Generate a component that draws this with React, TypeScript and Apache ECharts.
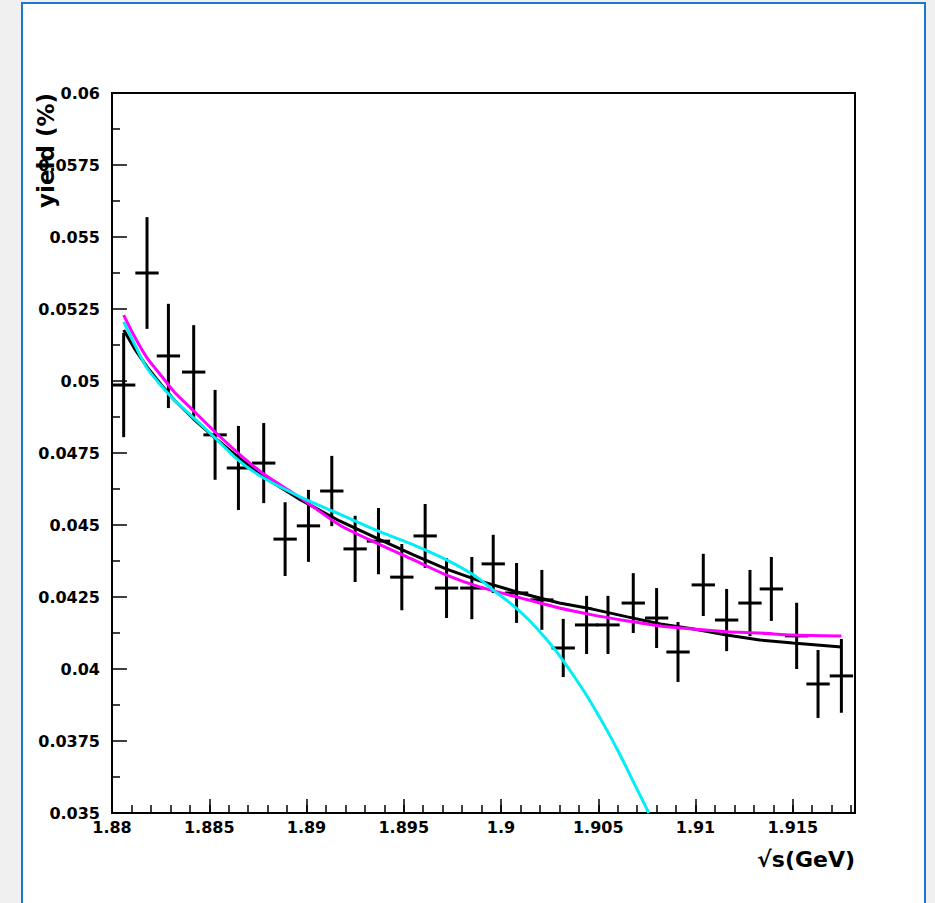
import React, { useEffect, useRef } from "react";
import * as echarts from "echarts";

// ---- axis ranges / ticks ----
const X_MIN = 1.88;
const X_MAX = 1.9182;
const X_MAJOR = 0.005;
const X_MINOR = 0.001;
const Y_MIN = 0.035;
const Y_MAX = 0.06;
const Y_MAJOR = 0.0025;

// ---- measured points ----
const energies = [
  1.8806, 1.8818, 1.8829, 1.8842, 1.8853, 1.8865, 1.8878, 1.8889, 1.8901, 1.8913, 1.8925,
  1.8937, 1.8949, 1.8961, 1.8972, 1.8985, 1.8996, 1.9008, 1.9021, 1.9032, 1.9044, 1.9055,
  1.9068, 1.908, 1.9091, 1.9104, 1.9116, 1.9128, 1.9139, 1.9152, 1.9163, 1.9175,
];
const yields = [
  0.04986, 0.05375, 0.05087, 0.05031, 0.04813, 0.04698, 0.04715, 0.04451, 0.04497, 0.04618,
  0.04417, 0.04444, 0.04319, 0.04462, 0.04281, 0.04281, 0.04365, 0.04264, 0.0424, 0.04073,
  0.04153, 0.04153, 0.04229, 0.04177, 0.04059, 0.04292, 0.0417, 0.04229, 0.04278, 0.04115,
  0.03948, 0.03976,
];
const yieldErrors = [
  0.00181, 0.00194, 0.00181, 0.00163, 0.00156, 0.00146, 0.00139, 0.00128, 0.00125, 0.00122,
  0.00115, 0.00115, 0.00115, 0.00111, 0.00104, 0.00108, 0.00101, 0.00104, 0.00104, 0.00101,
  0.00101, 0.00101, 0.00104, 0.00104, 0.00104, 0.00108, 0.00108, 0.00115, 0.00111, 0.00115,
  0.00118, 0.00128,
];
const energyHalfBin = 0.0006;

// ---- fit curves ----
const fitX = [
  1.8806, 1.8812, 1.8818, 1.8825, 1.8832, 1.8842, 1.8853, 1.8866, 1.8878, 1.8897, 1.8917,
  1.8938, 1.8955, 1.8972, 1.8989, 1.901, 1.903, 1.9047, 1.9065, 1.9082, 1.9099, 1.9116,
  1.9133, 1.915, 1.9175,
];
const blackFit = [
  0.05177, 0.05108, 0.05049, 0.0499, 0.04934, 0.04868, 0.04802, 0.04729, 0.04667, 0.04587,
  0.04514, 0.04448, 0.04396, 0.04347, 0.04306, 0.04264, 0.04229, 0.04208, 0.04181, 0.04156,
  0.04139, 0.04118, 0.04101, 0.0409, 0.04076,
];
const magentaFit = [
  0.05229, 0.05149, 0.0508, 0.05021, 0.04962, 0.04896, 0.04823, 0.04743, 0.04677, 0.04594,
  0.045, 0.04431, 0.04379, 0.04326, 0.04285, 0.04247, 0.04212, 0.04188, 0.04167, 0.04149,
  0.04139, 0.04129, 0.04125, 0.04118, 0.04115,
];
const cyanX = [
  1.8806, 1.8812, 1.8818, 1.8825, 1.8832, 1.8842, 1.8853, 1.8866, 1.8878, 1.8897, 1.8917,
  1.8938, 1.8955, 1.8972, 1.8986, 1.8996, 1.9006, 1.9015, 1.9024, 1.903, 1.9041, 1.9047,
  1.9054, 1.9061, 1.9068, 1.9076,
];
const cyanFit = [
  0.05205, 0.05122, 0.05045, 0.04986, 0.04934, 0.04872, 0.04802, 0.04719, 0.04663, 0.04597,
  0.04538, 0.04476, 0.04431, 0.04379, 0.04326, 0.04274, 0.04222, 0.04166, 0.04098, 0.04047,
  0.0394, 0.03875, 0.03793, 0.03705, 0.03609, 0.035,
];

const xTitle = "√s(GeV)";
const yTitle = "yield (%)";

const FONT = "DejaVu Sans";

export default function App() {
  const ref = useRef<HTMLDivElement>(null);

  useEffect(() => {
    if (!ref.current) return;
    const chart = echarts.init(ref.current, undefined, { renderer: "svg" });

    const fmtX = (v: number) => {
      const k = v / X_MAJOR;
      if (Math.abs(k - Math.round(k)) > 1e-6) return "";
      return String(parseFloat(v.toFixed(3)));
    };
    const fmtY = (v: number) => String(parseFloat(v.toFixed(4)));

    const points = energies.map((x, i) => [x, yields[i], yieldErrors[i]]);

    const labelStyle = {
      fontFamily: FONT,
      fontSize: 16,
      fontWeight: "bold",
      color: "#000",
    };

    const option: any = {
      animation: false,
      backgroundColor: "transparent",
      grid: {
        left: 112,
        top: 93,
        width: 743,
        height: 720,
        show: true,
        borderColor: "#000",
        borderWidth: 2,
        backgroundColor: "transparent",
        outerBoundsMode: "none",
      },
      xAxis: [
        {
          type: "value",
          min: X_MIN,
          max: X_MAX,
          interval: X_MAJOR,
          position: "bottom",
          axisLine: { show: false },
          axisTick: { show: true, inside: true, length: 14, lineStyle: { color: "#000", width: 1.5 } },
          axisLabel: { show: true, formatter: fmtX, margin: 6, ...labelStyle },
          splitLine: { show: false },
        },
        {
          type: "value",
          min: X_MIN,
          max: X_MAX,
          interval: X_MINOR,
          position: "bottom",
          offset: 0,
          axisLine: { show: false },
          axisTick: { show: true, inside: true, length: 8, lineStyle: { color: "#000", width: 1.5 } },
          axisLabel: { show: false },
          splitLine: { show: false },
        },
      ],
      yAxis: [
        {
          type: "value",
          min: Y_MIN,
          max: Y_MAX,
          interval: Y_MAJOR,
          axisLine: { show: false },
          axisTick: { show: true, inside: true, length: 15, lineStyle: { color: "#000", width: 1.5 } },
          minorTick: { show: true, splitNumber: 2, length: 8, lineStyle: { color: "#000", width: 1.5 } },
          axisLabel: { formatter: fmtY, margin: 12, ...labelStyle },
          splitLine: { show: false },
          minorSplitLine: { show: false },
        },
      ],
      series: [
        {
          type: "custom",
          xAxisIndex: 0,
          yAxisIndex: 0,
          z: 2,
          encode: { x: 0, y: 1 },
          data: points,
          renderItem: (_params: any, api: any) => {
            const x = api.value(0);
            const y = api.value(1);
            const e = api.value(2);
            const top = api.coord([x, y + e]);
            const bot = api.coord([x, y - e]);
            const l = api.coord([x - energyHalfBin, y]);
            const r = api.coord([x + energyHalfBin, y]);
            return {
              type: "group",
              children: [
                {
                  type: "line",
                  shape: { x1: top[0], y1: top[1], x2: bot[0], y2: bot[1] },
                  style: { stroke: "#000", lineWidth: 3 },
                },
                {
                  type: "line",
                  shape: { x1: l[0], y1: l[1], x2: r[0], y2: r[1] },
                  style: { stroke: "#000", lineWidth: 3 },
                },
              ],
            };
          },
        },
        {
          type: "line",
          xAxisIndex: 0,
          yAxisIndex: 0,
          z: 3,
          data: fitX.map((x, i) => [x, blackFit[i]]),
          showSymbol: false,
          symbol: "none",
          lineStyle: { color: "#000", width: 3 },
        },
        {
          type: "line",
          xAxisIndex: 0,
          yAxisIndex: 0,
          z: 4,
          data: fitX.map((x, i) => [x, magentaFit[i]]),
          showSymbol: false,
          symbol: "none",
          smooth: 0.25,
          lineStyle: { color: "#ff00ff", width: 3 },
        },
        {
          type: "line",
          xAxisIndex: 0,
          yAxisIndex: 0,
          z: 5,
          data: cyanX.map((x, i) => [x, cyanFit[i]]),
          showSymbol: false,
          symbol: "none",
          smooth: 0.3,
          lineStyle: { color: "#00eef4", width: 3 },
        },
      ],
      graphic: [
        {
          type: "text",
          x: 46,
          y: 93,
          rotation: Math.PI / 2,
          style: {
            text: yTitle,
            font: `bold 23px '${FONT}'`,
            fill: "#000",
            align: "right",
            verticalAlign: "middle",
          },
        },
        {
          type: "text",
          x: 855,
          y: 859,
          style: {
            text: xTitle,
            font: `bold 22px '${FONT}'`,
            fill: "#000",
            align: "right",
            verticalAlign: "middle",
          },
        },
      ],
    };

    chart.setOption(option);
    return () => chart.dispose();
  }, []);

  return (
    <div
      style={{
        position: "fixed",
        left: 0,
        top: 0,
        width: 935,
        height: 903,
        background: "#f0f0f0",
        overflow: "hidden",
      }}
    >
      <div
        style={{
          position: "absolute",
          left: 21,
          top: 2,
          width: 905,
          height: 1000,
          boxSizing: "border-box",
          border: "2px solid #1a78cf",
          background: "#fff",
        }}
      />
      <div ref={ref} style={{ position: "absolute", left: 0, top: 0, width: 935, height: 903 }} />
    </div>
  );
}
